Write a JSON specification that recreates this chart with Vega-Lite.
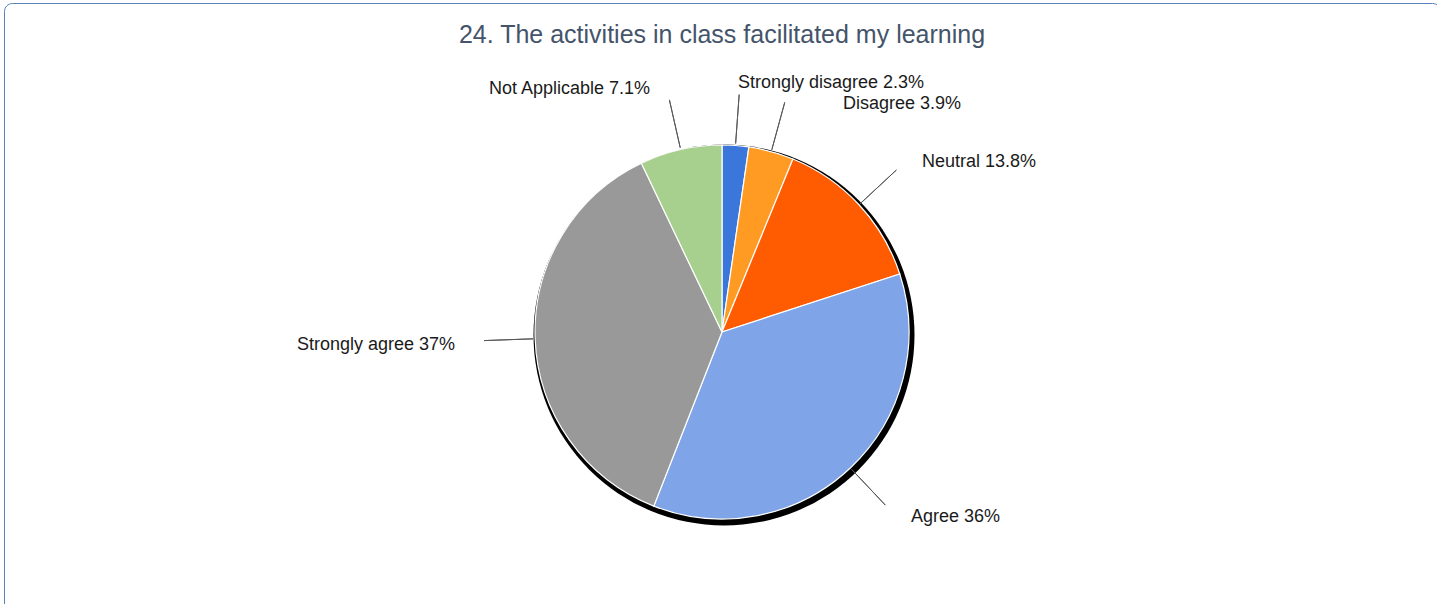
{
  "$schema": "https://vega.github.io/schema/vega-lite/v6.json",
  "autosize": "none",
  "width": 1436,
  "height": 658,
  "padding": {"left": 4, "top": 3, "right": 0, "bottom": 0},
  "background": "white",
  "view": {"stroke": "#5A82BA", "strokeWidth": 1, "cornerRadius": 8, "fill": "white"},
  "config": {
    "view": {"stroke": "#5A82BA", "strokeWidth": 1, "cornerRadius": 8},
    "font": "Liberation Sans"
  },
  "title": {
    "text": "24. The activities in class facilitated my learning",
    "font": "Liberation Sans",
    "fontSize": 25,
    "fontWeight": "normal",
    "color": "#44546A",
    "anchor": "middle",
    "frame": "group",
    "baseline": "alphabetic",
    "offset": -65
  },
  "data": {
    "values": [
      {"category": "Strongly disagree", "percent": 2.3, "label": "Strongly disagree 2.3%", "order": 1},
      {"category": "Disagree", "percent": 3.9, "label": "Disagree 3.9%", "order": 2},
      {"category": "Neutral", "percent": 13.8, "label": "Neutral 13.8%", "order": 3},
      {"category": "Agree", "percent": 36, "label": "Agree 36%", "order": 4},
      {"category": "Strongly agree", "percent": 37, "label": "Strongly agree 37%", "order": 5},
      {"category": "Not Applicable", "percent": 7.1, "label": "Not Applicable 7.1%", "order": 6}
    ]
  },
  "encoding": {
    "theta": {"field": "percent", "type": "quantitative", "stack": true},
    "order": {"field": "order", "type": "quantitative"}
  },
  "layer": [
    {
      "data": {"values": [{"shape": "shadow"}]},
      "mark": {"type": "arc", "theta": 0, "theta2": 6.2832, "radius": 190.5, "color": "#000000", "xOffset": 2, "yOffset": 3},
      "encoding": {"theta": null, "order": null}
    },
    {
      "mark": {"type": "arc", "radius": 187, "stroke": "#ffffff", "strokeWidth": 1.2},
      "encoding": {
        "color": {
          "field": "category",
          "type": "nominal",
          "scale": {
            "domain": ["Strongly disagree", "Disagree", "Neutral", "Agree", "Strongly agree", "Not Applicable"],
            "range": ["#3B76DA", "#FF9A22", "#FF5B00", "#7FA5E8", "#999999", "#A7D08F"]
          },
          "legend": null
        }
      }
    },
    {
      "mark": {"type": "arc", "radius": 238, "radius2": 189, "padAngle": 3, "fill": null, "fillOpacity": 0, "stroke": "#595959", "strokeWidth": 1}
    },
    {
      "mark": {"type": "text", "radius": 250, "thetaOffset": -0.0084, "align": "left", "baseline": "middle", "fontSize": 18, "color": "#1A1A1A"},
      "encoding": {"text": {"condition": {"test": "datum.category === 'Strongly disagree'", "field": "label"}, "value": ""}}
    },
    {
      "mark": {"type": "text", "radius": 258, "thetaOffset": 0.2211, "align": "left", "baseline": "middle", "fontSize": 18, "color": "#1A1A1A"},
      "encoding": {"text": {"condition": {"test": "datum.category === 'Disagree'", "field": "label"}, "value": ""}}
    },
    {
      "mark": {"type": "text", "radius": 262.5, "thetaOffset": 0.0442, "align": "left", "baseline": "middle", "fontSize": 18, "color": "#1A1A1A"},
      "encoding": {"text": {"condition": {"test": "datum.category === 'Neutral'", "field": "label"}, "value": ""}}
    },
    {
      "mark": {"type": "text", "radius": 264.5, "thetaOffset": -0.0396, "align": "left", "baseline": "middle", "fontSize": 18, "color": "#1A1A1A"},
      "encoding": {"text": {"condition": {"test": "datum.category === 'Agree'", "field": "label"}, "value": ""}}
    },
    {
      "mark": {"type": "text", "radius": 267.3, "thetaOffset": -0.0127, "align": "right", "baseline": "middle", "fontSize": 18, "color": "#1A1A1A"},
      "encoding": {"text": {"condition": {"test": "datum.category === 'Strongly agree'", "field": "label"}, "value": ""}}
    },
    {
      "mark": {"type": "text", "radius": 253.4, "thetaOffset": -0.0653, "align": "right", "baseline": "middle", "fontSize": 18, "color": "#1A1A1A"},
      "encoding": {"text": {"condition": {"test": "datum.category === 'Not Applicable'", "field": "label"}, "value": ""}}
    }
  ]
}
